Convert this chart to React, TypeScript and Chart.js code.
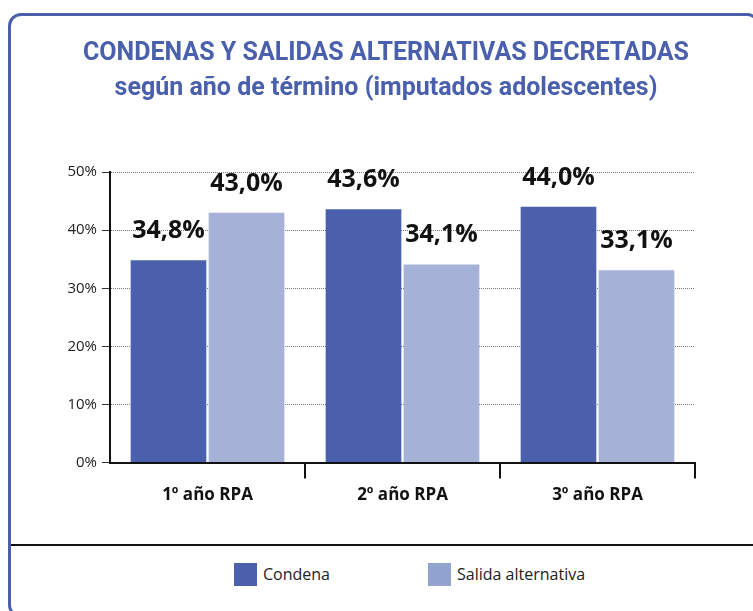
import React, { useEffect, useRef } from "react";
import { Chart, registerables } from "chart.js";

Chart.register(...registerables);

const categories = ["1º año RPA", "2º año RPA", "3º año RPA"];
const seriesNames = ["Condena", "Salida alternativa"];
const condena = [34.8, 43.6, 44.0];
const salida = [43.0, 34.1, 33.1];
const yTickValues = [0, 10, 20, 30, 40, 50];

const seriesColors = ["#4a60ac", "#a5b1d6"];
const legendColors = ["#4a60ac", "#93a3cf"];
const titleColor = "#4a60ac";
const titleText = "CONDENAS Y SALIDAS ALTERNATIVAS DECRETADAS";
const subtitleText = "según año de término (imputados adolescentes)";

const fmt = (v: number) => v.toFixed(1).replace(".", ",") + "%";

const valueLabels = {
  id: "valueLabels",
  afterDatasetsDraw(chart: any) {
    const ctx = chart.ctx;
    ctx.save();
    ctx.font = 'bold 25px "Open Sans"';
    ctx.fillStyle = "#111";
    ctx.textAlign = "center";
    ctx.textBaseline = "alphabetic";
    chart.data.datasets.forEach((ds: any, i: number) => {
      chart.getDatasetMeta(i).data.forEach((bar: any, j: number) => {
        ctx.fillText(fmt(ds.data[j]), bar.x, bar.y - 22);
      });
    });
    ctx.restore();
  },
};

export default function App() {
  const ref = useRef<HTMLCanvasElement | null>(null);

  useEffect(() => {
    if (!ref.current) return;
    Chart.defaults.font.family = '"Open Sans", sans-serif';
    const chart = new Chart(ref.current, {
      type: "bar",
      data: {
        labels: categories,
        datasets: [
          {
            label: seriesNames[0],
            data: condena,
            backgroundColor: seriesColors[0],
            categoryPercentage: 0.8,
            barPercentage: 0.97,
            yAxisID: "y",
          },
          {
            label: seriesNames[1],
            data: salida,
            backgroundColor: seriesColors[1],
            categoryPercentage: 0.8,
            barPercentage: 0.97,
            yAxisID: "y",
          },
        ],
      },
      options: {
        responsive: false,
        animation: false,
        layout: { padding: 0 },
        plugins: {
          legend: { display: false },
          tooltip: { enabled: false },
          title: {
            display: true,
            text: titleText,
            color: titleColor,
            font: { family: '"Liberation Sans Narrow", "Roboto", sans-serif', size: 25, weight: "bold" },
            padding: { top: 39, bottom: 5 },
          },
          subtitle: {
            display: true,
            text: subtitleText,
            color: titleColor,
            font: { family: '"Liberation Sans Narrow", "Roboto", sans-serif', size: 25, weight: "bold" },
            padding: { top: 0, bottom: 68 },
          },
        },
        scales: {
          x: {
            grid: {
              drawOnChartArea: false,
              drawTicks: true,
              tickLength: 16,
              tickWidth: 2,
              lineWidth: 2,
              color: "#111",
              tickColor: (c: any) => (c.index === 0 ? "rgba(0,0,0,0)" : "#111"),
            },
            border: { color: "#111", width: 2 },
            ticks: {
              color: "#111",
              padding: 6,
              font: { size: 17, weight: "bold" },
            },
          },
          y: {
            min: 0,
            max: 50,
            afterBuildTicks: (s: any) => {
              s.ticks = yTickValues.map((v) => ({ value: v }));
            },
            ticks: {
              callback: (v: any) => v + "%",
              padding: 5,
              color: "#222",
              font: { size: 15 },
            },
            grid: {
              color: "#777",
              lineWidth: 1,
              tickLength: 8,
              tickColor: "#333",
              tickWidth: 1,
            },
            border: { color: "#111", width: 2, dash: [1, 1] },
            afterFit: (s: any) => {
              s.width = 110;
            },
          },
          y2: {
            position: "right",
            display: true,
            ticks: { display: false },
            grid: { display: false },
            border: { display: false },
            afterFit: (s: any) => {
              s.width = 77;
            },
          },
        },
      },
      plugins: [valueLabels],
    });
    return () => chart.destroy();
  }, []);

  return (
    <div
      style={{
        position: "fixed",
        left: 0,
        top: 0,
        width: 753,
        height: 611,
        overflow: "hidden",
        background: "#fff",
        fontFamily: '"Open Sans", sans-serif',
      }}
    >
      <div
        style={{
          position: "absolute",
          left: 8,
          top: 13,
          width: 752,
          height: 605,
          boxSizing: "border-box",
          border: `3px solid ${titleColor}`,
          borderRadius: 13,
        }}
      />
      <canvas
        ref={ref}
        width={772}
        height={511}
        style={{ position: "absolute", left: 0, top: 0, width: 772, height: 511 }}
      />
      <div
        style={{
          position: "absolute",
          left: 11,
          top: 544,
          width: 760,
          height: 2,
          background: "#111",
        }}
      />
      <div style={{ position: "absolute", left: 234, top: 563, display: "flex" }}>
        {seriesNames.map((name, i) => (
          <div key={name} style={{ width: 194, display: "flex", alignItems: "center" }}>
            <div style={{ width: 23, height: 23, background: legendColors[i], marginRight: 6 }} />
            <span style={{ fontSize: 16, color: "#222", lineHeight: "23px" }}>{name}</span>
          </div>
        ))}
      </div>
    </div>
  );
}
